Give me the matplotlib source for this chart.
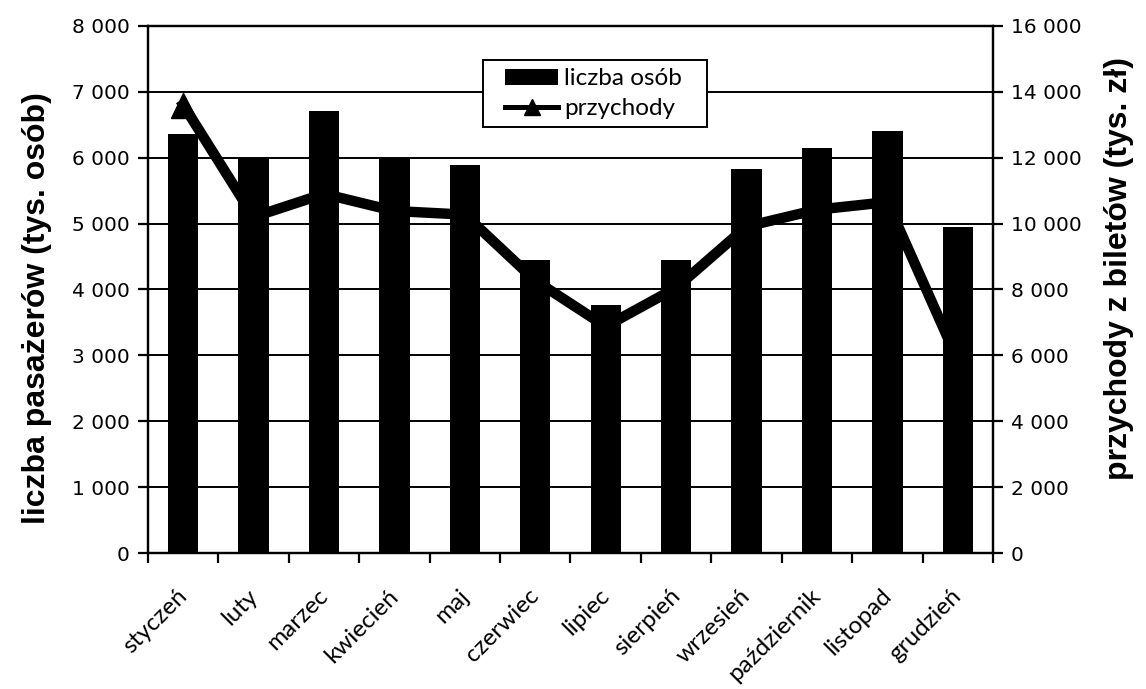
import numpy as np
import matplotlib
matplotlib.use("Agg")
import matplotlib.pyplot as plt
from matplotlib.ticker import FuncFormatter, MultipleLocator
from matplotlib.patches import Rectangle
from matplotlib.transforms import ScaledTranslation

# miesiące i dane
miesiace = ["styczeń", "luty", "marzec", "kwiecień", "maj", "czerwiec",
            "lipiec", "sierpień", "wrzesień", "październik", "listopad", "grudzień"]
liczba_osob = [6360, 5990, 6710, 6000, 5890, 4440, 3770, 4440, 5820, 6140, 6410, 4940]
przychody = [13600, 10200, 10900, 10380, 10270, 8270, 6880, 8050, 9910, 10420, 10650, 5850]

def tys(v, pos):
    return f"{int(v):,}".replace(",", " ")

fig = plt.figure(figsize=(11.46, 6.89), dpi=100)
ax = fig.add_axes([0.1291, 0.197, 0.7374, 0.7657])
ax2 = ax.twinx()

x = np.arange(len(miesiace))

ax.set_axisbelow(True)
ax.yaxis.grid(True, color="black", linewidth=1.4)
bary = ax.bar(x, liczba_osob, width=0.43, color="black", label="liczba osób", zorder=2)

linia, = ax2.plot(x, przychody, color="black", linewidth=7.5, marker="^",
                  markersize=18, label="przychody", solid_joinstyle="miter")

ax.set_xlim(-0.5, len(miesiace) - 0.5)
ax.set_ylim(0, 8000)
ax2.set_ylim(0, 16000)
ax.yaxis.set_major_locator(MultipleLocator(1000))
ax2.yaxis.set_major_locator(MultipleLocator(2000))
ax.yaxis.set_major_formatter(FuncFormatter(tys))
ax2.yaxis.set_major_formatter(FuncFormatter(tys))

for a in (ax, ax2):
    for s in a.spines.values():
        s.set_linewidth(1.6)
        s.set_color("black")

# kreski między kategoriami, podpisy pod słupkami
ax.set_xticks(x)
ax.set_xticks(np.arange(-0.5, len(miesiace)), minor=True)
ax.tick_params(axis="x", which="major", length=0, pad=23)
ax.tick_params(axis="x", which="minor", length=7, width=1.6, direction="out")
ax.set_xticklabels(miesiace, rotation=45, ha="right", rotation_mode="anchor",
                   family="Lato", fontsize=17.5)
przes = ScaledTranslation(-5 / 72, 0, fig.dpi_scale_trans)
for lab in ax.get_xticklabels():
    lab.set_transform(lab.get_transform() + przes)

ax.tick_params(axis="y", length=7, width=1.6, direction="out", pad=6)
ax2.tick_params(axis="y", length=7, width=1.6, direction="out", pad=6)
for lab in ax.get_yticklabels() + ax2.get_yticklabels():
    lab.set_family("DejaVu Sans")
    lab.set_fontsize(14.5)

ax.set_ylabel("liczba pasażerów (tys. osób)", family="Liberation Sans",
              fontweight="bold", fontsize=23)
ax.yaxis.set_label_coords(-0.114, 0.465)
ax2.set_ylabel("przychody z biletów (tys. zł)", family="Liberation Sans",
               fontweight="bold", fontsize=23, rotation=90)
ax2.yaxis.set_label_coords(1.1315, 0.54)

leg = ax2.legend([bary, linia], ["liczba osób", "przychody"],
                 loc="upper left", bbox_to_anchor=(0.4142, 0.933),
                 prop={"family": "Lato", "size": 17.5}, frameon=False,
                 handlelength=2.18, handleheight=0.62, handletextpad=0.25,
                 labelspacing=0.35, borderpad=0.3, borderaxespad=0)
leg.set_zorder(6)
leg.legend_handles[1].set_markersize(11)
leg.legend_handles[1].set_linewidth(3.6)

# biała ramka legendy, szersza w poziomie niż sama zawartość
fig.canvas.draw()
bb = leg.get_window_extent()
ramka = Rectangle((bb.x0 - 15, bb.y0 - 1), bb.width + 33, bb.height + 2,
                  transform=None, facecolor="white", edgecolor="black",
                  linewidth=1.4, zorder=5)
ax2.add_artist(ramka)

fig.savefig("out.png", dpi=100, facecolor="white")
